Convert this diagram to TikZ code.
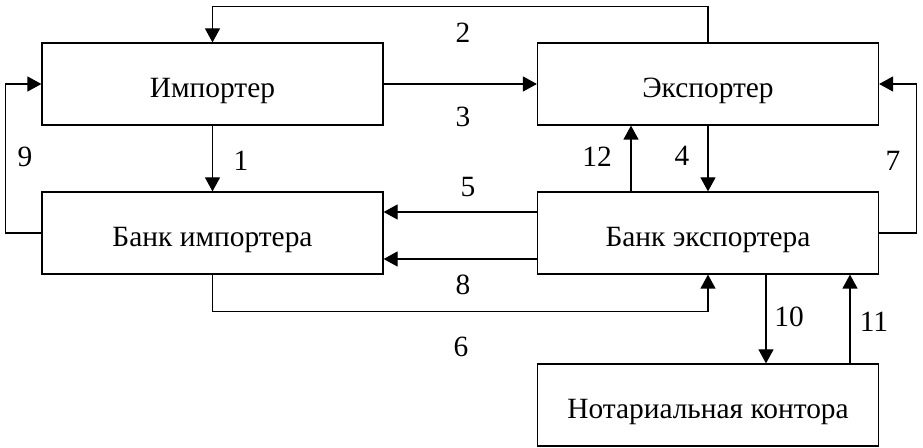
\documentclass[tikz,border=0pt]{standalone}
\usepackage{fontspec}
\setmainfont{Liberation Serif}
\usetikzlibrary{arrows.meta}

\begin{document}
\begin{tikzpicture}[
x=0.5pt, y=-0.5pt, % one unit is one pixel of the reference, y grows downwards
>={Triangle[length=7pt,width=7.5pt]},
line width=0.6pt,
box/.style={draw, minimum width=170.5pt, minimum height=41pt, inner sep=0pt,
  text height=13.5pt, text depth=0pt, font=\fontsize{14.7}{17}\selectfont},
num/.style={inner sep=1pt, font=\fontsize{14.7}{17}\selectfont}
]
\useasboundingbox (0,0) rectangle (923,448);

% ================= Nodes (Participants) =================

% Top row
\node[box] (imp) at (212.5, 84) {Импортер};
\node[box] (exp) at (708, 84) {Экспортер};

% Bank row
\node[box] (bimp) at (212.5, 233) {Банк импортера};
\node[box] (bexp) at (708, 233) {Банк экспортера};

% Bottom right
\node[box] (nota) at (708, 405) {Нотариальная контора};

% ================= Edges (Steps) =================

% Between importer and exporter
\draw[->] (exp.north) -- ++(0,-36) -| (imp.north);
\draw[->] (imp.east) -- (exp.west);

% Each party with its bank
\draw[->] (imp.south) -- (bimp.north);
\draw[->] (bimp.west) -- ++(-36,0) |- (imp.west);
\draw[->] (exp.south) -- (bexp.north);
\draw[->] ([xshift=-38.5pt]bexp.north) -- ([xshift=-38.5pt]exp.south);
\draw[->] (bexp.east) -- ++(37,0) |- (exp.east);

% Between the banks
\draw[->] ([yshift=10.5pt]bexp.west) -- ([yshift=10.5pt]bimp.east);
\draw[->] ([yshift=-13pt]bexp.west) -- ([yshift=-13pt]bimp.east);
\draw[->] (bimp.south) -- ++(0,37) -| (bexp.south);

% Exporter's bank and the notary
\draw[->] ([xshift=29pt]bexp.south) -- ([xshift=29pt]nota.north);
\draw[->] ([xshift=71pt]nota.north) -- ([xshift=71pt]bexp.south);

% ================= Step numbers =================
\node[num] (n1) at (241, 161) {1};
\node[num] (n2) at (463, 33) {2};
\node[num] (n3) at (463, 117) {3};
\node[num] (n4) at (682, 156) {4};
\node[num] (n5) at (468, 187) {5};
\node[num] (n6) at (461, 347) {6};
\node[num] (n7) at (893, 161) {7};
\node[num] (n8) at (463, 285) {8};
\node[num] (n9) at (25, 157) {9};
\node[num] (n10) at (789, 317) {10};
\node[num] (n11) at (874, 322) {11};
\node[num] (n12) at (597, 157) {12};

\end{tikzpicture}
\end{document}
